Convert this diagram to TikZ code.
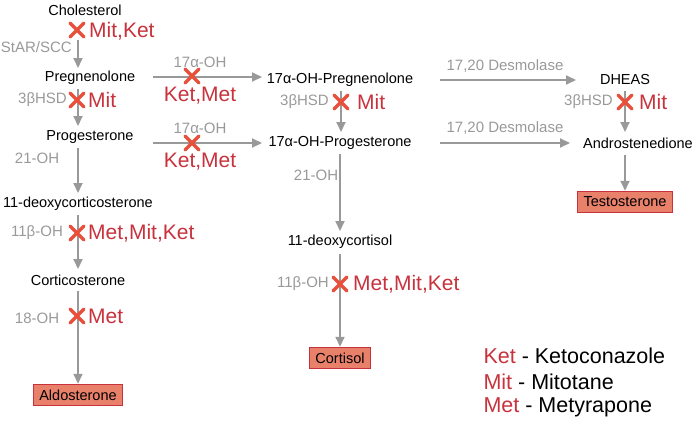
\documentclass[tikz,border=0pt]{standalone}
\usepackage{fontspec}
\setmainfont{Liberation Sans}
\usetikzlibrary{arrows.meta}
\definecolor{gr}{HTML}{999999}
\definecolor{rd}{HTML}{C8323C}
\definecolor{xr}{HTML}{E8503C}
\definecolor{box}{HTML}{E8806A}
\tikzset{
 x=1pt,y=-1pt,
 mol/.style={font=\fontsize{14.5}{16}\selectfont,inner sep=2pt},
 prod/.style={mol,draw=rd,line width=1.5pt,fill=box,minimum height=21pt,inner xsep=6pt},
 enz/.style={font=\fontsize{15}{17}\selectfont,text=gr,inner sep=1pt},
 drug/.style={font=\fontsize{21}{23}\selectfont,text=rd,inner sep=1pt},
 leg/.style={anchor=west,font=\fontsize{21.5}{23}\selectfont},
 arr/.style={draw=gr,line width=2pt,-{Triangle[length=10pt,width=9pt]}},
}
\newcommand{\xmark}[2]{\draw[xr,line width=3.5pt,line cap=round] (#1-7,#2-7) -- (#1+7,#2+7) (#1-7,#2+7) -- (#1+7,#2-7);}
\begin{document}
\begin{tikzpicture}
\useasboundingbox (0,0) rectangle (700,420);
% left column
\node[mol] (chol) at (85,10) {Cholesterol};
\node[mol] (preg) at (90,78) {Pregnenolone};
\node[mol] (prog) at (90,137) {Progesterone};
\node[mol] (doc) at (78,204) {11-deoxycorticosterone};
\node[mol] (cort) at (78,280) {Corticosterone};
\node[prod] (aldo) at (78,395) {Aldosterone};
\coordinate (a1s) at (78,40); \coordinate (a1e) at (78,68);
\draw[arr] (a1s) -- (a1e);
\coordinate (a2s) at (78,89); \coordinate (a2e) at (78,126);
\draw[arr] (a2s) -- (a2e);
\coordinate (a3s) at (78,148); \coordinate (a3e) at (78,193);
\draw[arr] (a3s) -- (a3e);
\coordinate (a4s) at (78,215); \coordinate (a4e) at (78,269);
\draw[arr] (a4s) -- (a4e);
\coordinate (a5s) at (78,291);
\draw[arr] (a5s) -- (aldo.north);
\node[enz,anchor=east] (e1) at (73,47) {StAR/SCC};
\node[enz,anchor=east] (e2) at (68,100) {3βHSD};
\node[enz] (e3) at (37,158) {21-OH};
\node[enz] (e4) at (37,233) {11β-OH};
\node[enz] (e5) at (37,318) {18-OH};
\xmark{77}{30}\node[drug,anchor=west] (d1) at (88,31) {Mit,Ket};
\xmark{77}{100}\node[drug,anchor=west] (d2) at (87,100) {Mit};
\xmark{77}{233}\node[drug,anchor=west] (d3) at (87,233) {Met,Mit,Ket};
\xmark{77}{316}\node[drug,anchor=west] (d4) at (87,316) {Met};
% middle
\node[mol] (ohpreg) at (340,80) {17α-OH-Pregnenolone};
\node[mol] (ohprog) at (340,143) {17α-OH-Progesterone};
\node[mol] (deox) at (340,242) {11-deoxycortisol};
\node[prod] (cortisol) at (340,358) {Cortisol};
\coordinate (h1s) at (153,77); \coordinate (h1e) at (262,77);
\draw[arr] (h1s) -- (h1e);
\coordinate (h2s) at (153,143); \coordinate (h2e) at (262,143);
\draw[arr] (h2s) -- (h2e);
\node[enz] at (200,62) {17α-OH};
\node[enz] at (200,128) {17α-OH};
\xmark{192}{76}\node[drug] at (200,96) {Ket,Met};
\xmark{192}{143}\node[drug] at (200,162) {Ket,Met};
\coordinate (m1s) at (341,91); \coordinate (m1e) at (341,132);
\draw[arr] (m1s) -- (m1e);
\coordinate (m2s) at (340,154); \coordinate (m2e) at (340,231);
\draw[arr] (m2s) -- (m2e);
\coordinate (m3s) at (340,254);
\draw[arr] (m3s) -- (cortisol.north);
\node[enz,anchor=east] at (330,102) {3βHSD};
\xmark{341}{102}\node[drug,anchor=west] at (356,102) {Mit};
\node[enz] at (316,175) {21-OH};
\node[enz,anchor=east] at (330,284) {11β-OH};
\xmark{340}{284}\node[drug,anchor=west] at (352,284) {Met,Mit,Ket};
% right
\node[mol] (dheas) at (625,80) {DHEAS};
\node[mol] (andro) at (638,143) {Androstenedione};
\node[prod] (testo) at (625,202) {Testosterone};
\coordinate (r1s) at (440,80); \coordinate (r1e) at (576,80);
\draw[arr] (r1s) -- (r1e);
\coordinate (r2s) at (440,143); \coordinate (r2e) at (570,143);
\draw[arr] (r2s) -- (r2e);
\node[enz] at (505,66) {17,20 Desmolase};
\node[enz] at (505,128) {17,20 Desmolase};
\coordinate (r0s) at (625,91); \coordinate (r0e) at (625,132);
\draw[arr] (r0s) -- (r0e);
\node[enz,anchor=east] at (614,102) {3βHSD};
\xmark{625}{102}\node[drug,anchor=west] at (638,102) {Mit};
\coordinate (r3s) at (625,155);
\draw[arr] (r3s) -- (testo.north);
% legend
\node[leg] (l1) at (480,356) {\textcolor{rd}{Ket} - Ketoconazole};
\node[leg] (l2) at (480,382) {\textcolor{rd}{Mit} - Mitotane};
\node[leg] (l3) at (480,407) {\textcolor{rd}{Met} - Metyrapone};
\end{tikzpicture}
\end{document}
